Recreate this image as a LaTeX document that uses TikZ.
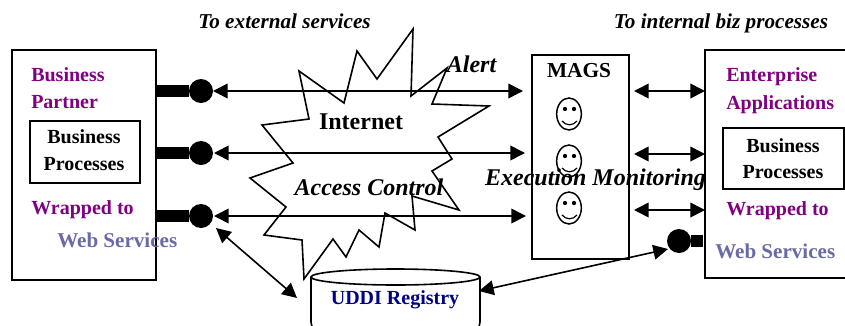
\documentclass[tikz,border=0pt]{standalone}
\usepackage{fontspec}
\setmainfont{Liberation Serif}
\usetikzlibrary{arrows.meta,shapes.geometric}
\definecolor{bizpurple}{HTML}{800080}
\definecolor{wsblue}{HTML}{6A6AA8}
\definecolor{uddiblue}{HTML}{000088}
\tikzset{
	bx/.style={draw,line width=1.4pt,anchor=north west,inner sep=0},
	lolly/.style={circle,fill=black,minimum size=18pt,inner sep=0},
	stub/.style={line width=9pt},
	link/.style={line width=1.2pt,{Triangle[length=11pt,width=11pt]}-{Triangle[length=11pt,width=11pt]}},
	lab/.style={font=\fontsize{15}{16}\selectfont\bfseries,inner sep=0},
	wslab/.style={font=\fontsize{15.8}{16}\selectfont\bfseries,text=wsblue,inner sep=0,anchor=west},
	ital/.style={font=\fontsize{15.9}{16}\selectfont\bfseries\itshape,inner sep=0},
	bigital/.style={font=\fontsize{18}{18}\selectfont\bfseries\itshape,inner sep=0},
}
\begin{document}
\begin{tikzpicture}[x=.75pt,y=-.75pt]
\useasboundingbox (0,0) rectangle (845,325);
% boxes
\node[bx,minimum width=108pt,minimum height=172.5pt] (partner) at (11,49) {};
\node[bx,minimum width=82.5pt,minimum height=46.5pt] (partnerproc) at (29,120) {};
\node[bx,minimum width=72.75pt,minimum height=153pt] (mags) at (531,54) {};
\node[bx,minimum width=90.75pt,minimum height=45.75pt] (entproc) at (722,127) {};
\draw[line width=1.4pt] (846,50) -- (705,50) -- (705,278) -- (846,278);
\coordinate (entedge) at (703,241);
% cloud
\draw[line width=1.2pt,line join=miter] (413,29) -- (411,96) -- (447,68) -- (432,104) -- (489,106)
	-- (438,137) -- (452,159) -- (432,171) -- (459,210) -- (412,196) -- (415,230) -- (385,213)
	-- (379,247) -- (359,230) -- (346,257) -- (333,239) -- (304,279) -- (302,240) -- (264,235)
	-- (286,207) -- (250,178) -- (293,163) -- (262,125) -- (309,119) -- (299,71) -- (344,103)
	-- (357,51) -- (377,79) -- cycle;
% registry
\draw[line width=1.2pt,fill=white] (311,277) -- (311,322) to[out=-80,in=180] (316,330) -- (475,330)
	to[out=0,in=-100] (480,322) -- (480,277);
\draw[line width=1.2pt,fill=white] (395.5,277) ellipse (84.5 and 8);
\coordinate (uddiright) at (479,291);
\coordinate (uddileft) at (297,298);
% lollipops and the links across
\foreach \n/\y/\a/\b in {a/91/213/523,b/153/214/525,c/216/214/526}{
	\node[lolly] (lol\n) at (201,\y) {};
	\draw[stub] (partner.east |- lol\n) -- (lol\n);
	\coordinate (from\n) at (\a,\y);
	\coordinate (to\n) at (\b,\y);
	\draw[link] (from\n) -- (to\n);
}
\foreach \n/\y in {a/91,b/154,c/210}{
	\coordinate (ml\n) at (634,\y);
	\coordinate (er\n) at (705,\y);
	\draw[link] (ml\n) -- (er\n);
}
\node[lolly] (lold) at (679,241) {};
\draw[stub] (lold) -- (entedge);
\coordinate (lolcfoot) at (216,228);
\coordinate (loldfoot) at (668,249);
\draw[link] (lolcfoot) -- (uddileft);
\draw[link] (uddiright) -- (loldfoot);
% agents
\foreach \n/\y in {a/114,b/161,c/208}{
	\node[draw,ellipse,line width=1.1pt,minimum width=18.5pt,minimum height=24pt,inner sep=0] (face\n) at (569,\y) {};
	\fill (565,\y-5) circle (1.6pt);
	\fill (574,\y-5) circle (1.6pt);
	\draw[line width=.9pt] (562,\y+7) .. controls (566,\y+12) and (573,\y+12) .. (577,\y+7);
}
% labels
\node[ital] (toext) at (284.5,21) {To external services};
\node[ital] (toint) at (721,23) {To internal biz processes};
\node[lab,text=bizpurple,anchor=west] (bp1) at (31,75) {Business};
\node[lab,text=bizpurple,anchor=west] (bp2) at (31,102) {Partner};
\node[lab] (pp1) at (84,137) {Business};
\node[lab] (pp2) at (84,164) {Processes};
\node[lab,text=bizpurple,anchor=west] (wt1) at (31,210) {Wrapped to};
\node[wslab] (ws1) at (57,240) {Web Services};
\node[lab,font=\fontsize{18}{18}\selectfont\bfseries] (inet) at (361,122) {Internet};
\node[bigital] (access) at (369,187) {Access Control};
\node[bigital] (alert) at (471.5,64) {Alert};
\node[bigital] (exec) at (595.5,180) {Execution Monitoring};
\node[lab,font=\fontsize{16}{16}\selectfont\bfseries] (magsl) at (579,71) {MAGS};
\node[lab,text=bizpurple,anchor=west] (ea1) at (726,77) {Enterprise};
\node[lab,text=bizpurple,anchor=west] (ea2) at (726,105) {Applications};
\node[lab] (ep1) at (783,146) {Business};
\node[lab] (ep2) at (783,172) {Processes};
\node[lab,text=bizpurple,anchor=west] (wt2) at (726,211) {Wrapped to};
\node[wslab] (ws2) at (715,251) {Web Services};
\node[lab,text=uddiblue] (uddi) at (395,300) {UDDI Registry};
\end{tikzpicture}
\end{document}
